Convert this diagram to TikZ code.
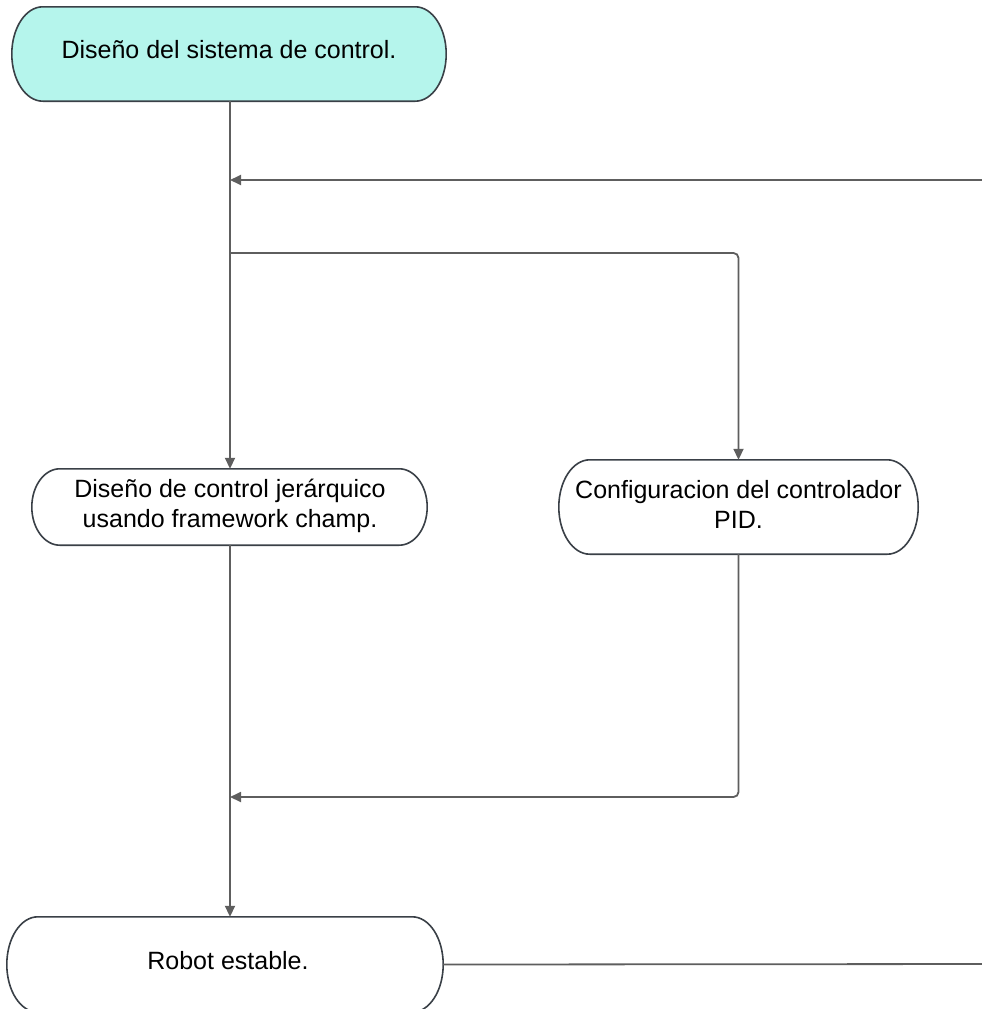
\documentclass[tikz,border=0pt]{standalone}
\usepackage{fontspec}
\setmainfont{Liberation Sans}
\usetikzlibrary{arrows.meta,calc,backgrounds}

\definecolor{startfill}{HTML}{B5F5EC}
\definecolor{edgegray}{HTML}{5E5E5E}
\definecolor{outline}{HTML}{3A4047}

\tikzset{
  shapebox/.style={rectangle, draw=none, inner sep=0pt, minimum width=#1},
  label text/.style={font=\fontsize{25pt}{30pt}\selectfont, align=center, text=black, inner sep=0pt},
  conn/.style={draw=edgegray, line width=1.8pt},
  arrowed/.style={conn, -{Triangle[length=11pt,width=10pt]}},
}

% stadium outline with elliptical ends: node name, end radius, fill colour
\newcommand\stadiumoutline[3]{%
  \path let \p1=(#1.north west), \p2=(#1.south east), \n1={(\y1-\y2)/2} in
    [draw=outline, line width=1.6pt, fill=#3]
    (\x1+#2,\y1) -- (\x2-#2,\y1)
    arc[start angle=90, end angle=-90, x radius=#2, y radius=\n1]
    -- (\x1+#2,\y2)
    arc[start angle=270, end angle=90, x radius=#2, y radius=\n1]
    -- cycle;}

\begin{document}
\begin{tikzpicture}[x=1pt,y=1pt]
\useasboundingbox (0,0) rectangle (982,-1009);
\clip (0,0) rectangle (982,-1009);

% terminal and process boxes
\node[shapebox=434pt, minimum height=94pt] (start) at (229,-54) {};
\node[shapebox=395pt, minimum height=76pt] (champ) at (229.5,-507) {};
\node[shapebox=359pt, minimum height=94pt] (pid) at (738.5,-507) {};
\node[shapebox=436pt, minimum height=95pt] (robot) at (225,-964.5) {};

\begin{scope}[on background layer]
  \stadiumoutline{start}{31pt}{startfill}
  \stadiumoutline{champ}{28pt}{white}
  \stadiumoutline{pid}{31pt}{white}
  \stadiumoutline{robot}{31pt}{white}
\end{scope}

\node[label text] (tstart) at (229,-50) {Diseño del sistema de control.};
\node[label text] (tchamp) at (230,-505.5) {Diseño de control jerárquico\\usando framework champ.};
\node[label text] (tpid) at (738.5,-504) {Configuracion del controlador\\PID.};
\node[label text] (trobot) at (228,-961) {Robot estable.};

% junction points on the main trunk
\coordinate (loopin) at (230,-180);
\coordinate (split) at (230,-253);
\coordinate (merge) at (230,-797);
\coordinate (loopcorner) at (1000,-964);

% connectors
\draw[arrowed] (start.south -| loopin) -- (champ.north -| loopin);
\draw[arrowed, rounded corners=5pt] (split) -| (pid.north);
\draw[arrowed, rounded corners=5pt] (pid.south) |- (merge);
\draw[arrowed] (champ.south -| loopin) -- (robot.north -| loopin);
\draw[arrowed] (robot.east) -- (loopcorner) |- (loopin);
\end{tikzpicture}
\end{document}
